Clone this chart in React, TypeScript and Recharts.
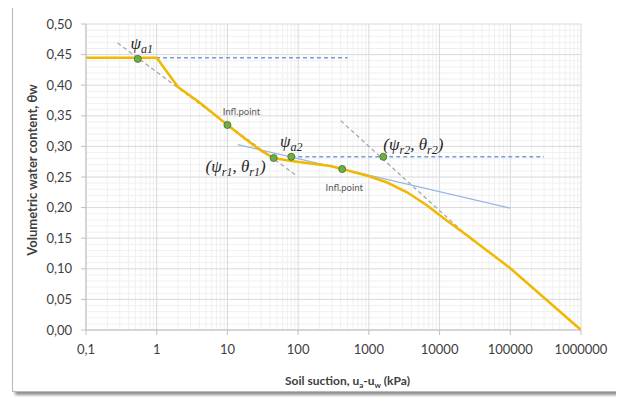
import React from 'react';
import { ComposedChart, Line, Scatter, XAxis, YAxis, CartesianGrid, Label } from 'recharts';

// axis ticks
const xTicks = [0.1, 1, 10, 100, 1000, 10000, 100000, 1000000];
const yTicks = [0, 0.05, 0.1, 0.15, 0.2, 0.25, 0.3, 0.35, 0.4, 0.45, 0.5];

// soil water characteristic curve
const suction = [0.1, 1, 2, 4, 10, 20, 30, 45, 80, 150, 286, 420, 955, 1820, 3470, 6600, 12600, 26900, 41000, 100000, 1000000];
const waterContent = [0.445, 0.445, 0.397, 0.372, 0.335, 0.308, 0.293, 0.281, 0.276, 0.272, 0.268, 0.263, 0.252, 0.241, 0.225, 0.204, 0.179, 0.151, 0.135, 0.101, 0];

// horizontal construction lines
const saturationX = [0.1, 500];
const saturationY = [0.445, 0.445];
const residualX = [80, 300000];
const residualY = [0.283, 0.283];

// tangents
const tangent1X = [0.28, 90];
const tangent1Y = [0.469, 0.254];
const tangent2X = [400, 30000];
const tangent2Y = [0.342, 0.145];
const tangentMidX = [14, 100000];
const tangentMidY = [0.303, 0.199];

// characteristic points
const pointX = [0.54, 10, 45, 80, 420, 1600];
const pointY = [0.443, 0.335, 0.281, 0.283, 0.263, 0.283];
const pointLabels = [
  [{ t: 'ψ' }, { t: 'a1', sub: true }],
  [{ t: 'Infl.point' }],
  [{ t: '(ψ' }, { t: 'r1', sub: true }, { t: ', θ' }, { t: 'r1', sub: true }, { t: ')' }],
  [{ t: 'ψ' }, { t: 'a2', sub: true }],
  [{ t: 'Infl.point' }],
  [{ t: '(ψ' }, { t: 'r2', sub: true }, { t: ', θ' }, { t: 'r2', sub: true }, { t: ')' }],
];

const labelOffset = [
  [4, -15],
  [14, -13],
  [-38, 9],
  [0, -15],
  [2, 18],
  [30, -12],
];

const rows = (xs: number[], ys: number[]) => xs.map((x, i) => ({ x, y: ys[i] }));

const minorX = xTicks.slice(0, -1).flatMap((d) => [2, 3, 4, 5, 6, 7, 8, 9].map((m) => d * m));
const minorY = Array.from({ length: 51 }, (_, i) => i / 100).filter((_, i) => i % 5 !== 0);

const FONT = 'Lato, "Open Sans", sans-serif';
const TICK = { fill: '#404040', fontSize: 13, fontFamily: FONT };

const fmtY = (v: number) => v.toFixed(2).replace('.', ',');
const fmtX = (v: number) => (v < 1 ? '0,1' : String(Math.round(v)));

const PointShape = (props: any) => {
  const { cx, cy, payload } = props;
  const i = payload.i;
  const parts = pointLabels[i];
  const [dx, dy] = labelOffset[i];
  const isInfl = parts.length === 1;
  return (
    <g>
      <circle cx={cx} cy={cy} r={3.5} fill="#70ad47" stroke="#507e32" strokeWidth={1} />
      {isInfl ? (
        <text x={cx + dx} y={cy + dy} textAnchor="middle" dominantBaseline="central" fontSize={9.5} fill="#595959" fontFamily={FONT}>
          {parts[0].t}
        </text>
      ) : (
        <text x={cx + dx} y={cy + dy + 5} textAnchor="middle" fontSize={17} fill="#262626" fontFamily='"Liberation Serif", "DejaVu Serif", serif' fontStyle="italic">
          {parts.map((p, k) => (
            <tspan key={k} fontSize={p.sub ? 12 : 17} dy={p.sub ? 4 : k > 0 && parts[k - 1].sub ? -4 : 0}>
              {p.t}
            </tspan>
          ))}
        </text>
      )}
    </g>
  );
};

export default function App() {
  const points = pointX.map((x, i) => ({ x, y: pointY[i], i }));
  const lineProps = { dataKey: 'y', dot: false, activeDot: false, isAnimationActive: false, legendType: 'none' as const, type: 'linear' as const };

  return (
    <div style={{ position: 'relative', width: 624, height: 397, marginLeft: -8, marginTop: -8 }}>
      <ComposedChart width={624} height={397} margin={{ top: 24, right: 43, left: 0, bottom: 0 }}>
        <CartesianGrid stroke="#f0f0f0" verticalValues={minorX} horizontalValues={minorY} />
        <CartesianGrid stroke="#d9d9d9" verticalValues={xTicks} horizontalValues={yTicks} />
        <XAxis
          dataKey="x"
          type="number"
          scale="log"
          domain={[0.1, 1000000]}
          ticks={xTicks}
          interval={0}
          allowDataOverflow
          tickFormatter={fmtX}
          tick={TICK}
          tickSize={5}
          tickMargin={10}
          axisLine={{ stroke: '#bfbfbf' }}
          tickLine={{ stroke: '#bfbfbf' }}
          height={67}
        >
          <Label
            content={({ viewBox }: any) => (
              <text x={viewBox.x + viewBox.width / 2 + 14} y={viewBox.y + 55} textAnchor="middle" fontSize={12} fontWeight="bold" fill="#404040" fontFamily={FONT}>
                Soil suction, u<tspan fontSize={8} dy={3}>a</tspan>
                <tspan dy={-3}>-u</tspan>
                <tspan fontSize={8} dy={3}>w</tspan>
                <tspan dy={-3}> (kPa)</tspan>
              </text>
            )}
          />
        </XAxis>
        <YAxis
          type="number"
          domain={[0, 0.5]}
          ticks={yTicks}
          interval={0}
          tickFormatter={fmtY}
          tick={TICK}
          tickSize={5}
          tickMargin={9}
          axisLine={{ stroke: '#bfbfbf' }}
          tickLine={{ stroke: '#bfbfbf' }}
          width={86}
        >
          <Label
            content={({ viewBox }: any) => {
              const x = 32;
              const y = viewBox.y + viewBox.height / 2 - 7;
              return (
                <text x={x} y={y} transform={`rotate(-90 ${x} ${y})`} textAnchor="middle" dominantBaseline="central" fontSize={13} fontWeight="bold" fill="#404040" fontFamily={FONT}>
                  Volumetric water content, θw
                </text>
              );
            }}
          />
        </YAxis>

        <Line {...lineProps} data={rows(saturationX, saturationY)} stroke="#6f9fd8" strokeWidth={1.5} strokeDasharray="4 3" />
        <Line {...lineProps} data={rows(residualX, residualY)} stroke="#6f9fd8" strokeWidth={1.5} strokeDasharray="4 3" />
        <Line {...lineProps} data={rows(tangent1X, tangent1Y)} stroke="#a6a6a6" strokeWidth={1.25} strokeDasharray="4 3" />
        <Line {...lineProps} data={rows(tangent2X, tangent2Y)} stroke="#a6a6a6" strokeWidth={1.25} strokeDasharray="4 3" />
        <Line {...lineProps} data={rows(tangentMidX, tangentMidY)} stroke="#94b6e0" strokeWidth={1.25} />
        <Line {...lineProps} data={rows(suction, waterContent)} stroke="#f2b800" strokeWidth={2.5} />
        <Scatter data={points} dataKey="y" isAnimationActive={false} legendType="none" shape={PointShape} />
      </ComposedChart>
      <div
        style={{
          position: 'absolute',
          left: 12,
          top: 3,
          width: 606,
          height: 387,
          border: '1px solid #b8b8b8',
          boxShadow: '3px 3px 3px rgba(0,0,0,0.45)',
          pointerEvents: 'none',
          boxSizing: 'content-box',
        }}
      />
    </div>
  );
}
